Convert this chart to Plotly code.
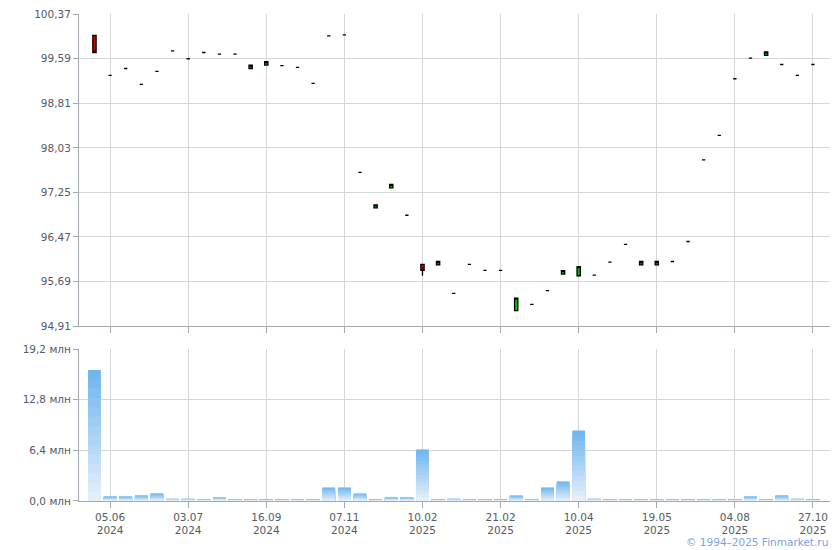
import plotly.graph_objects as go

# ---- data ----
opens = [100.00, 99.30, 99.42, 99.14, 99.37, 99.73, 99.59, 99.70, 99.67, 99.67,
         99.42, 99.48, 99.47, 99.44, 99.16, 99.99, 100.01, 97.60, 96.98, 97.33,
         96.85, 95.99, 95.98, 95.48, 95.99, 95.885, 95.885, 95.18, 95.29, 95.53,
         95.82, 95.79, 95.80, 96.03, 96.34, 95.98, 95.98, 96.04, 96.39, 97.82,
         98.25, 99.24, 99.60, 99.65, 99.49, 99.30, 99.49]
closes = [99.70, 99.30, 99.42, 99.14, 99.37, 99.73, 99.59, 99.70, 99.67, 99.67,
          99.48, 99.54, 99.47, 99.44, 99.16, 99.99, 100.01, 97.60, 97.03, 97.39,
          96.85, 95.885, 96.04, 95.48, 95.99, 95.885, 95.885, 95.40, 95.29, 95.53,
          95.88, 95.95, 95.80, 96.03, 96.34, 96.04, 96.04, 96.04, 96.39, 97.82,
          98.25, 99.24, 99.60, 99.71, 99.49, 99.30, 99.49]
highs = [max(o, c) for o, c in zip(opens, closes)]
lows = [min(o, c) for o, c in zip(opens, closes)]
lows[21] = 95.79

volumes = [16.58, 0.59, 0.59, 0.72, 0.97, 0.29, 0.29, 0.17, 0.46, 0.17,
           0.17, 0.17, 0.17, 0.17, 0.17, 1.72, 1.72, 0.96, 0.17, 0.46,
           0.46, 6.52, 0.17, 0.29, 0.17, 0.17, 0.17, 0.71, 0.17, 1.72,
           2.48, 8.92, 0.29, 0.17, 0.17, 0.17, 0.17, 0.17, 0.17, 0.17,
           0.17, 0.17, 0.59, 0.17, 0.72, 0.29, 0.17]

idx = list(range(len(opens)))

tick_idx = [1, 6, 11, 16, 21, 26, 31, 36, 41, 46]
tick_dates = ["05.06", "03.07", "16.09", "07.11", "10.02", "21.02", "10.04", "19.05", "04.08", "27.10"]
tick_years = ["2024", "2024", "2024", "2024", "2025", "2025", "2025", "2025", "2025", "2025"]

price_ticks = [94.91, 95.69, 96.47, 97.25, 98.03, 98.81, 99.59, 100.37]
vol_ticks = [0.0, 6.4, 12.8, 19.2]

# ---- figure ----
FONT = "DejaVu Sans"
TXT = "#555a64"
GRID = "#d4d8dc"
AX = "#a4a8b0"

fig = go.Figure()
fig.add_trace(go.Candlestick(
    x=idx, open=opens, high=highs, low=lows, close=closes,
    increasing=dict(line=dict(color="#000000", width=1.3), fillcolor="#00c400"),
    decreasing=dict(line=dict(color="#000000", width=1.3), fillcolor="#d40000"),
    whiskerwidth=0, xaxis="x", yaxis="y", showlegend=False, hoverinfo="skip"))

# volume bars with a vertical gradient (dark top -> light bottom), drawn as overlaid layers
N = 14
top_rgb = (0x70, 0xb7, 0xef)
bot_rgb = (0xe4, 0xef, 0xfa)
for k in range(N):
    t = k / (N - 1)
    col = "rgb({},{},{})".format(*[round(a + (b - a) * t) for a, b in zip(top_rgb, bot_rgb)])
    frac = 1 - k / N
    fig.add_trace(go.Bar(
        x=idx, y=[v * frac for v in volumes],
        marker=dict(color=col, line=dict(width=0)),
        xaxis="x2", yaxis="y2", showlegend=False, hoverinfo="skip"))

xr = [-0.99, 47.09]
common_x = dict(range=xr, showgrid=True, gridcolor=GRID, gridwidth=1,
                tickvals=tick_idx, ticks="outside", ticklen=6, tickcolor=AX,
                showline=True, linecolor=AX, linewidth=1, zeroline=False,
                automargin=False, rangeslider=dict(visible=False), fixedrange=True)

fig.update_layout(
    width=832, height=542,
    margin=dict(l=71, r=10, t=6, b=49),
    paper_bgcolor="white", plot_bgcolor="white",
    font=dict(family=FONT, size=10, color=TXT),
    boxgap=0.7, bargap=0.18, barmode="overlay",
    xaxis=dict(**common_x, showticklabels=False, anchor="y"),
    xaxis2=dict(**common_x, anchor="y2", matches="x",
                ticktext=[f"{d}<br>{y}" for d, y in zip(tick_dates, tick_years)],
                tickfont=dict(size=10.5, color=TXT)),
    yaxis=dict(domain=[0.3593, 1.0], range=[price_ticks[0], price_ticks[-1] + 0.004],
               tickvals=price_ticks,
               ticktext=[f"{v:.2f}".replace(".", ",") for v in price_ticks],
               showgrid=True, gridcolor=GRID, ticks="outside", ticklen=5, tickcolor=AX,
               showline=True, linecolor=AX, zeroline=False, fixedrange=True,
               automargin=False, ticklabeloverflow="allow",
               tickfont=dict(size=10.5, color=TXT)),
    yaxis2=dict(domain=[0.0, 0.3121], range=[vol_ticks[0], vol_ticks[-1] + 0.02],
                tickvals=vol_ticks,
                ticktext=[f"{v:.1f}".replace(".", ",") + " млн" for v in vol_ticks],
                showgrid=True, gridcolor=GRID, ticks="outside", ticklen=5, tickcolor=AX,
                showline=True, linecolor=AX, zeroline=False, fixedrange=True,
                automargin=False, ticklabeloverflow="allow",
                tickfont=dict(size=10.5, color=TXT)),
    annotations=[dict(text="© 1994–2025 Finmarket.ru", xref="paper", yref="paper",
                      x=1.0, y=0, yshift=-41, xanchor="right", yanchor="middle",
                      showarrow=False, font=dict(family=FONT, size=10.5, color="#7f9fe0"))],
)

fig.write_html("out.html")
